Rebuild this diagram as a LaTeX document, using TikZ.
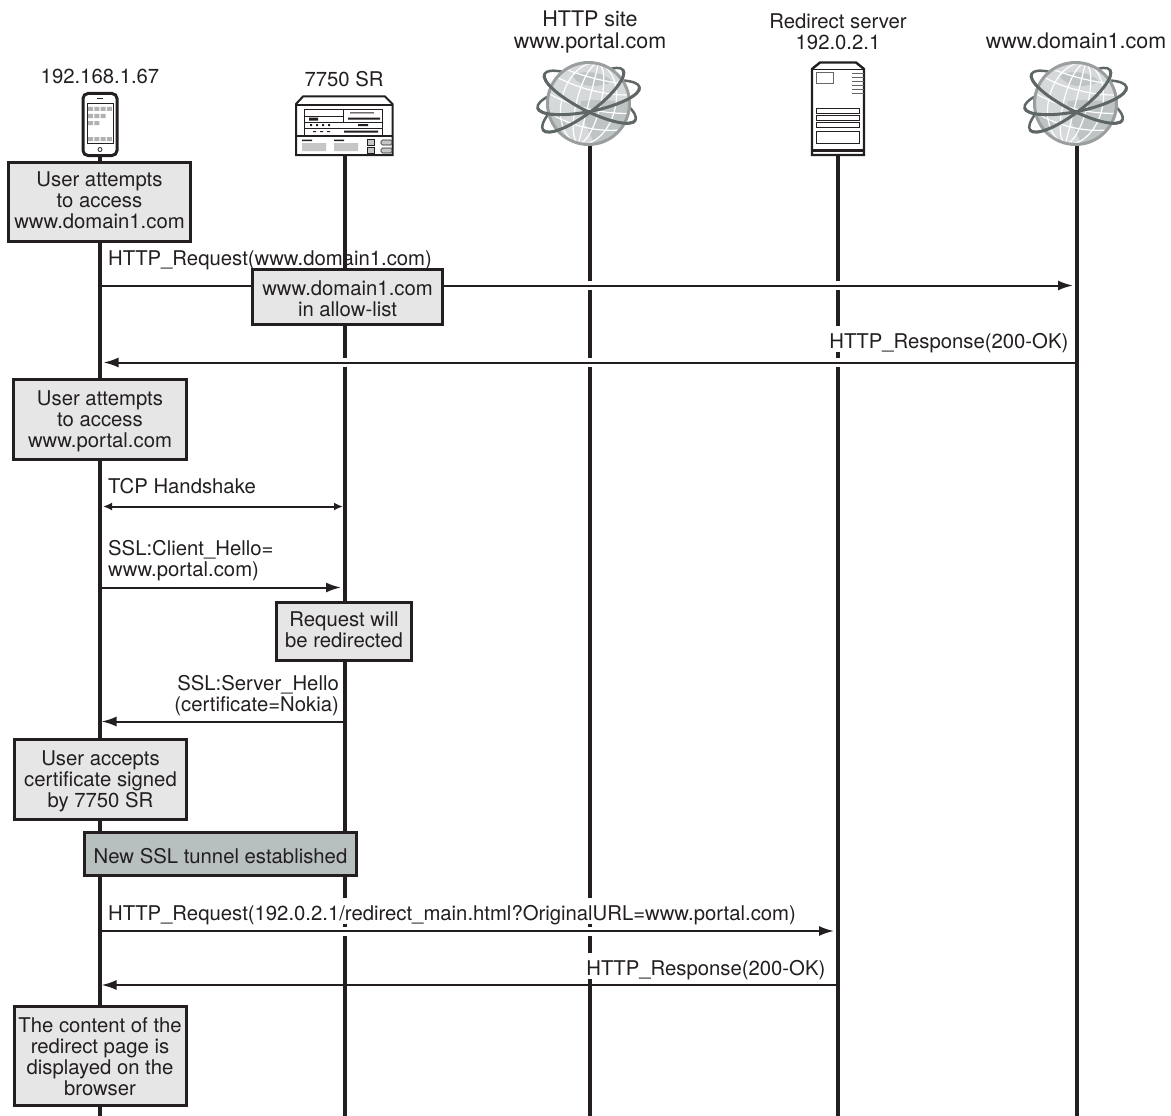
\documentclass[tikz,border=0pt]{standalone}
\usepackage{fontspec}
\setmainfont{TeX Gyre Heros}
\usepackage{xcolor}
\usepackage{tikz}
\usetikzlibrary{positioning, arrows.meta, calc}

\definecolor{inkdark}{HTML}{231F20}
\definecolor{orbitgray}{HTML}{5F6666}
\definecolor{globegray}{HTML}{D6D9D9}
\definecolor{landgray}{HTML}{BEC3C3}
\definecolor{rimgray}{HTML}{9A9E9E}
\definecolor{notegray}{HTML}{E6E6E6}
\definecolor{tunnelgray}{HTML}{B8BFBF}

% small vertical nudges for the text inside a note
\newcommand{\noteup}{\rule[-4pt]{0pt}{4pt}}
\newcommand{\notedown}[1]{\rule{0pt}{#1}}

\begin{document}
\begin{tikzpicture}[
	  x=1pt, y=-1pt,
	  font=\fontsize{20.3}{21.2}\selectfont,
	  every node/.style={text=inkdark},
	  lifeline/.style={draw=inkdark,line width=4pt},
	  notebox/.style={draw=inkdark,line width=3pt,fill=notegray,align=center,inner sep=0pt},
	  tunnelbox/.style={notebox,fill=tunnelgray},
	  hostlabel/.style={align=center,inner sep=0pt},
	  hostlarge/.style={hostlabel,font=\fontsize{21.5}{22}\selectfont},
	  msglabel/.style={inner sep=0pt,align=left},
	  msglabelr/.style={inner sep=0pt,align=right},
	  clearlabel/.style={fill=white,inner sep=0pt,text height=22pt,text depth=4pt},
	  arrow/.style={draw=inkdark,line width=2pt,-{Latex[length=15pt,width=10pt]}},
	  twoway/.style={draw=inkdark,line width=2pt,{Latex[length=9pt,width=8pt]}-{Latex[length=9pt,width=8pt]}},
	  bridge/.style={preaction={draw=white,-{},line width=9pt,shorten <=6pt,shorten >=9pt}},
	  globeicon/.pic={
	    % back of the orbits
	    \begin{scope}[shift={(1.5,-6.5)},rotate=-27]
	      \draw[orbitgray,line width=2.5pt] (0,0) ellipse [x radius=51pt,y radius=14pt];
	    \end{scope}
	    \begin{scope}[shift={(0,-6)},rotate=11.5]
	      \draw[orbitgray,line width=2.5pt] (0,0) ellipse [x radius=52pt,y radius=14pt];
	    \end{scope}
	    \begin{scope}[shift={(-5.5,-3.5)},rotate=37]
	      \draw[orbitgray,line width=2.5pt] (0,0) ellipse [x radius=50pt,y radius=14pt];
	    \end{scope}
	    % ball
	    \fill[globegray] (0,0) circle [radius=41pt];
	    \begin{scope}
	      \clip (0,0) circle [radius=41pt];
	      \fill[landgray] (-8,-2) .. controls (10,-6) and (28,0) .. (42,-4) -- (42,14) .. controls (30,20) and (26,44) .. (6,44) .. controls (4,30) and (-8,18) .. (-8,-2) -- cycle;
	      \fill[landgray] (-16,-28) .. controls (-4,-34) and (14,-32) .. (24,-22) .. controls (12,-16) and (-8,-14) .. (-16,-28) -- cycle;
	      \fill[landgray] (-42,10) .. controls (-34,6) and (-26,12) .. (-20,24) .. controls (-26,30) and (-38,26) .. (-42,10) -- cycle;
	      \begin{scope}[rotate=-14]
	        \draw[white,line width=1.2pt] (0,0) ellipse [x radius=12pt,y radius=41pt];
	        \draw[white,line width=1.2pt] (0,0) ellipse [x radius=27pt,y radius=41pt];
	        \draw[white,line width=1.2pt] (0,-41) -- (0,41);
	        \draw[white,line width=1.2pt] (-37,-18) .. controls (-15,-12) and (15,-12) .. (37,-18);
	        \draw[white,line width=1.2pt] (-41,0) .. controls (-15,7) and (15,7) .. (41,0);
	        \draw[white,line width=1.2pt] (-37,18) .. controls (-15,26) and (15,26) .. (37,18);
	        \draw[white,line width=1.2pt] (-32,-28) .. controls (-12,-25) and (12,-25) .. (32,-28);
	      \end{scope}
	    \end{scope}
	    \draw[rimgray,line width=3pt] (0,0) circle [radius=41pt];
	    % front of the orbits
	    \begin{scope}[shift={(1.5,-6.5)},rotate=-27]
	      \draw[orbitgray,line width=3pt] (-51,0) arc [start angle=180,end angle=360,x radius=51pt,y radius=14pt];
	    \end{scope}
	    \begin{scope}[shift={(0,-6)},rotate=11.5]
	      \draw[orbitgray,line width=3pt] (-52,0) arc [start angle=180,end angle=360,x radius=52pt,y radius=14pt];
	    \end{scope}
	    \begin{scope}[shift={(-5.5,-3.5)},rotate=37]
	      \draw[orbitgray,line width=3pt] (-50,0) arc [start angle=180,end angle=360,x radius=50pt,y radius=14pt];
	    \end{scope}
	  }
	]

	\useasboundingbox (0,0) rectangle (1171,1116);

	% --- Hosts (top) ---
	\node[draw=inkdark,line width=3pt,fill=white,rounded corners=5pt,minimum width=34pt,minimum height=62pt,inner sep=0pt] (phone) at (100,124.5) {};
	\node[minimum width=98pt,minimum height=60pt,inner sep=0pt] (sr) at (345,126) {};
	\node[circle,minimum size=84pt,inner sep=0pt] (site) at (590,103.5) {};
	\node[minimum width=54pt,minimum height=94pt,inner sep=0pt] (redirect) at (838,109) {};
	\node[circle,minimum size=84pt,inner sep=0pt] (domain) at (1077,103.5) {};
	\coordinate (bottom) at (0,1116);

	% --- Lifelines ---
	\draw[lifeline] (phone.south) -- (phone |- bottom);
	\draw[lifeline] (sr.south) -- (sr |- bottom);
	\draw[lifeline] (site.south) -- (site |- bottom);
	\draw[lifeline] (redirect.south) -- (redirect |- bottom);
	\draw[lifeline] (domain.south) -- (domain |- bottom);

	% --- Host labels ---
	\node[hostlabel, above=8pt of phone] (phonelabel) {192.168.1.67};
	\node[hostlabel, above=9pt of sr, xshift=-1pt] (srlabel) {7750 SR};
	\node[hostlarge, above=8pt of site] (sitelabel) {HTTP site\\www.portal.com};
	\node[hostlabel, above=12pt of redirect] (redirectlabel) {Redirect server\\192.0.2.1};
	\node[hostlarge, above=12pt of domain, xshift=-1pt] (domainlabel) {www.domain1.com};

	% --- Flows ---
	\coordinate (row1) at (0,285.5);
	\coordinate (row2) at (0,362.5);
	\coordinate (row3) at (0,506.5);
	\coordinate (row4) at (0,587.5);
	\coordinate (row5) at (0,721.5);
	\coordinate (row6) at (0,931);
	\coordinate (row7) at (0,985);
	\draw[arrow,bridge,shorten >=4pt] (phone |- row1) -- (domain |- row1);
	\draw[arrow,bridge,shorten >=3.5pt] (domain |- row2) -- (phone |- row2);
	\draw[twoway,shorten <=3pt,shorten >=2pt] (phone |- row3) -- (sr |- row3);
	\draw[arrow,shorten >=4pt] (phone |- row4) -- (sr |- row4);
	\draw[arrow,shorten >=1.5pt] (sr |- row5) -- (phone |- row5);
	\draw[arrow,bridge,shorten >=4pt] (phone |- row6) -- (redirect |- row6);
	\draw[arrow,shorten >=1.5pt] (redirect |- row7) -- (phone |- row7);

	% --- Flow labels ---
	\node[msglabel, anchor=base west] (reqlabel) at (108,265) {HTTP\_Request(www.domain1.com)};
	\node[msglabelr, clearlabel, anchor=base east] (resplabel) at (1068.5,348) {HTTP\_Response(200-OK)};
	\node[msglabel, anchor=base west] (tcplabel) at (108,493) {TCP Handshake};
	\node[msglabel, anchor=south west] (clientlabel) at (108,581) {SSL:Client\_Hello=\\www.portal.com)};
	\node[msglabelr, anchor=south east] (serverlabel) at (339,716) {SSL:Server\_Hello\\(certificate=Nokia)};
	\node[msglabel, clearlabel, anchor=base west] (redirlabel) at (108,920) {HTTP\_Request(192.0.2.1/redirect\_main.html?OriginalURL=www.portal.com)};
	\node[msglabelr, clearlabel, anchor=base east] (okaylabel) at (825.5,975) {HTTP\_Response(200-OK)};

	% --- Notes ---
	\node[notebox, minimum width=182pt, minimum height=79pt] (note1) at (99.5,202) {User attempts\\to access\\www.domain1.com\noteup};
	\node[notebox, minimum width=190pt, minimum height=55pt] (note2) at (347.5,297) {\notedown{18.6pt}www.domain1.com\\in allow-list};
	\node[notebox, minimum width=173pt, minimum height=80pt] (note3) at (100,419.5) {\notedown{18.6pt}User attempts\\to access\\www.portal.com};
	\node[notebox, minimum width=135pt, minimum height=58pt] (note4) at (344,631.5) {Request will\\be redirected\noteup};
	\node[notebox, minimum width=172pt, minimum height=80pt] (note5) at (100.5,779.5) {\notedown{18.6pt}User accepts\\certificate signed\\by 7750 SR};
	\node[tunnelbox, minimum width=272pt, minimum height=43pt] (tunnel) at (220.5,854) {\notedown{18.6pt}New SSL tunnel established};
	\node[notebox, minimum width=172pt, minimum height=99pt] (note6) at (100,1056) {\notedown{16.6pt}The content of the\\redirect page is\\displayed on the\\browser};

	% --- Phone icon ---
	\draw[inkdark,line width=.7pt] (87,103) rectangle (113,143);
	\draw[inkdark,line width=1.2pt] (97,98.5) -- (103,98.5);
	\draw[inkdark,line width=.8pt] (100,149.5) circle [radius=2pt];
	\fill[gray!60] (88,107) rectangle +(5,4) (94.3,107) rectangle +(5,4) (100.6,107) rectangle +(5,4) (106.9,107) rectangle +(5,4)
	  (88,114) rectangle +(5,4) (94.3,114) rectangle +(5,4) (100.6,114) rectangle +(5,4)
	  (88,121) rectangle +(5,4) (94.3,121) rectangle +(5,4)
	  (88,137) rectangle +(5,4) (94.3,137) rectangle +(5,4) (100.6,137) rectangle +(5,4) (106.9,137) rectangle +(5,4);

	% --- 7750 SR icon ---
	\draw[inkdark,line width=2pt,fill=white] (296,104) -- (303,96.5) -- (385,96.5) -- (392.5,104) -- (392.5,155) -- (296,155) -- cycle;
	\draw[inkdark,line width=1.2pt] (296,105) -- (392.5,105);
	\draw[inkdark,line width=2pt] (296,136) -- (392.5,136);
	\draw[inkdark,line width=.7pt] (304,109.5) rectangle (382,135) (304,116) -- (343,116) (304,122) -- (382,122) (304,128) -- (382,128) (343,109.5) -- (343,122);
	\fill[inkdark] (309,117.5) rectangle (318,120.5) (348,117.5) rectangle (380,119.5) (350,112.5) rectangle (374,113.5)
	  (310,124) rectangle (312,126) (316,124) rectangle (318,126) (322,124) rectangle (324,126) (328,124) rectangle (330,126) (358,124) rectangle (368,126)
	  (313,131) rectangle (316,132) (320,131) rectangle (323,132) (327,131) rectangle (330,132) (344,130.5) rectangle (378,132.5);
	\fill[inkdark] (302,139.5) rectangle (312,141) (334,139.5) rectangle (344,141);
	\fill[gray!45] (302,143) rectangle (326,151) (334,143) rectangle (358,151);
	\draw[inkdark,line width=.7pt,fill=gray!45] (367,139) rectangle (374,145) (367,147) rectangle (374,153);
	\draw[inkdark,line width=.7pt,fill=gray!45,rounded corners=1.5pt] (381,140) rectangle (392,145) (381,148) rectangle (392,153);

	% --- Redirect server icon ---
	\draw[inkdark,line width=2.4pt,fill=white] (812,69) -- (820,62.5) -- (856,62.5) -- (864,69) -- (864,155) -- (812,155) -- cycle;
	\draw[inkdark,line width=1pt] (812,70) -- (864,70);
	\draw[inkdark,line width=3pt] (812,150) -- (864,150);
	\draw[gray!80!black,line width=.8pt] (816,72.5) rectangle (833,83.5);
	\draw[gray!80!black,line width=.8pt] (852,73) -- (864,73) (852,77) -- (864,77) (852,81) -- (864,81) (852,85) -- (864,85) (852,89) -- (864,89) (852,93) -- (864,93);
	\draw[inkdark,line width=.8pt,fill=white] (816,108.5) rectangle (859,113) (816,115.5) rectangle (859,120) (816,122.5) rectangle (859,127.5) (816,131) rectangle (859,143);

	% --- Globes ---
	\pic at ($(site.center)+(-1.5,0)$) {globeicon};
	\pic at ($(domain.center)+(-1.5,0)$) {globeicon};

	\end{tikzpicture}
\end{document}
